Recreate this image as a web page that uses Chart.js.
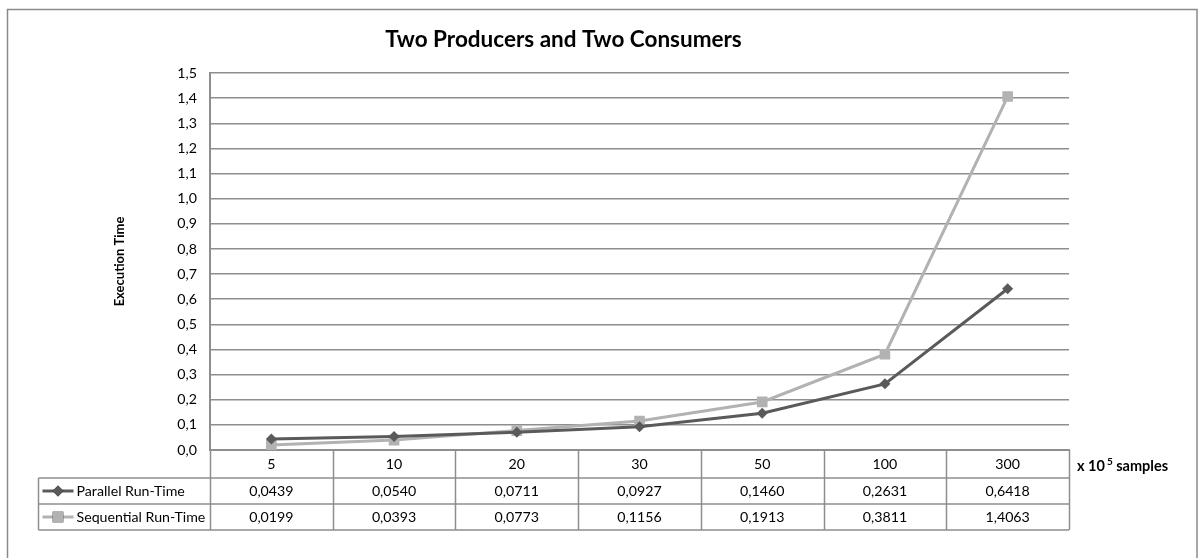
<!DOCTYPE html>
<html>
<head>
<meta charset="utf-8">
<title>Two Producers and Two Consumers</title>
<script src="https://cdn.jsdelivr.net/npm/chart.js@4.4.1/dist/chart.umd.min.js"></script>
<style>
html,body{margin:0;padding:0;background:#fff}
canvas{display:block}
</style>
</head>
<body>
<canvas id="chart" width="1198" height="558"></canvas>
<script>

// data
const samples=["5","10","20","30","50","100","300"]
const parallelRunTime=[0.0439,0.0540,0.0711,0.0927,0.1460,0.2631,0.6418]
const sequentialRunTime=[0.0199,0.0393,0.0773,0.1156,0.1913,0.3811,1.4063]
const seriesNames=["Parallel Run-Time","Sequential Run-Time"]

const FONT="Lato, 'Open Sans', sans-serif"
const GRID="#8e8e8e"
const TXT=14.2

Chart.defaults.font.family=FONT
Chart.defaults.color="#000"

const comma=v=>v.toFixed(4).replace(".",",")

// frame around the whole chart
const frame={
id:"frame",
beforeDraw(chart){
const ctx=chart.ctx
ctx.save()
ctx.fillStyle="#fff"
ctx.fillRect(0,0,chart.width,chart.height)
ctx.strokeStyle="#8a8a8a"
ctx.lineWidth=1.5
ctx.strokeRect(7.5,9.5,1189.5,560)
ctx.restore()
}
}

// y axis title, unit label and the data table under the plot
const dataTable={
id:"dataTable",
afterDraw(chart){

const ctx=chart.ctx
const a=chart.chartArea
const x=chart.scales.x
const colW=(a.right-a.left)/samples.length
const tableLeft=38.5
const headH=28
const rowH=26
const top=a.bottom
const bottom=top+headH+rowH*2

ctx.save()

// y title
ctx.translate(120,(a.top+a.bottom)/2)
ctx.rotate(-Math.PI/2)
ctx.font="bold 13px "+FONT
ctx.textAlign="center"
ctx.textBaseline="middle"
ctx.fillStyle="#000"
ctx.fillText("Execution Time",0,0)
ctx.setTransform(1,0,0,1,0,0)

// unit label
ctx.font="bold 14.5px "+FONT
ctx.textAlign="left"
let ux=a.right+8
const uy=top+headH/2+2
ctx.fillText("x 10",ux,uy)
ux+=ctx.measureText("x 10").width+2
ctx.font="bold 10px "+FONT
ctx.fillText("5",ux,uy-4)
ux+=ctx.measureText("5").width
ctx.font="bold 14.5px "+FONT
ctx.fillText(" samples",ux,uy)

// table grid
ctx.strokeStyle=GRID
ctx.lineWidth=1.5
ctx.beginPath()
for(let r=1;r<=2;r++){
const y=top+headH+rowH*(r-1)
ctx.moveTo(tableLeft,y)
ctx.lineTo(a.right,y)
}
ctx.moveTo(tableLeft,bottom)
ctx.lineTo(a.right,bottom)
ctx.moveTo(tableLeft,top+headH)
ctx.lineTo(tableLeft,bottom)
for(let i=0;i<=samples.length;i++){
const vx=Math.round(a.left+i*colW)+0.5
ctx.moveTo(vx,top)
ctx.lineTo(vx,bottom)
}
ctx.stroke()

// rows
ctx.font=TXT+"px "+FONT
chart.data.datasets.forEach((ds,r)=>{
const cy=top+headH+rowH*r+rowH/2

// legend key
ctx.strokeStyle=ds.borderColor
ctx.lineWidth=3
ctx.beginPath()
ctx.moveTo(tableLeft+4,cy)
ctx.lineTo(tableLeft+35,cy)
ctx.stroke()
Chart.helpers.drawPoint(ctx,{pointStyle:ds.pointStyle,radius:ds.pointRadius,rotation:0,borderWidth:0},tableLeft+19.5,cy)
ctx.fillStyle=ds.borderColor
ctx.fill()

ctx.fillStyle="#000"
ctx.textAlign="left"
ctx.fillText(ds.label,tableLeft+38,cy)

ctx.textAlign="center"
ds.data.forEach((v,i)=>{
ctx.fillText(comma(v),x.getPixelForValue(i),cy)
})
})

ctx.restore()
}
}

new Chart(document.getElementById("chart"),{
type:"line",
data:{
labels:samples,
datasets:[
{
label:seriesNames[0],
data:parallelRunTime,
borderColor:"#5a5a5a",
backgroundColor:"#5a5a5a",
borderWidth:3,
pointStyle:"rectRot",
pointRadius:5.5,
pointBorderWidth:0,
tension:0
},
{
label:seriesNames[1],
data:sequentialRunTime,
borderColor:"#b2b2b2",
backgroundColor:"#b2b2b2",
borderWidth:3,
pointStyle:"rect",
pointRadius:7.5,
pointBorderWidth:0,
tension:0
}
]
},
options:{
responsive:false,
animation:false,
layout:{padding:{top:26,right:129,left:58,bottom:0}},
plugins:{
legend:{display:false},
tooltip:{enabled:false},
title:{
display:true,
text:"Two Producers and Two Consumers",
font:{size:22.5,weight:"bold"},
color:"#000",
padding:{top:0,bottom:20}
}
},
scales:{
x:{
offset:true,
grid:{display:false,drawTicks:false},
border:{display:true,color:GRID,width:2},
ticks:{padding:6,font:{size:TXT},color:"#000"},
afterFit(scale){scale.height=108}
},
y:{
min:0,
max:1.5,
grid:{color:GRID,lineWidth:1.5,drawTicks:false},
border:{display:true,color:GRID,width:2},
ticks:{
stepSize:0.1,
padding:13,
font:{size:TXT},
color:"#000",
callback:v=>v.toFixed(1).replace(".",",")
},
afterFit(scale){scale.width=152}
}
}
},
plugins:[frame,dataTable]
})

</script>
</body>
</html>
